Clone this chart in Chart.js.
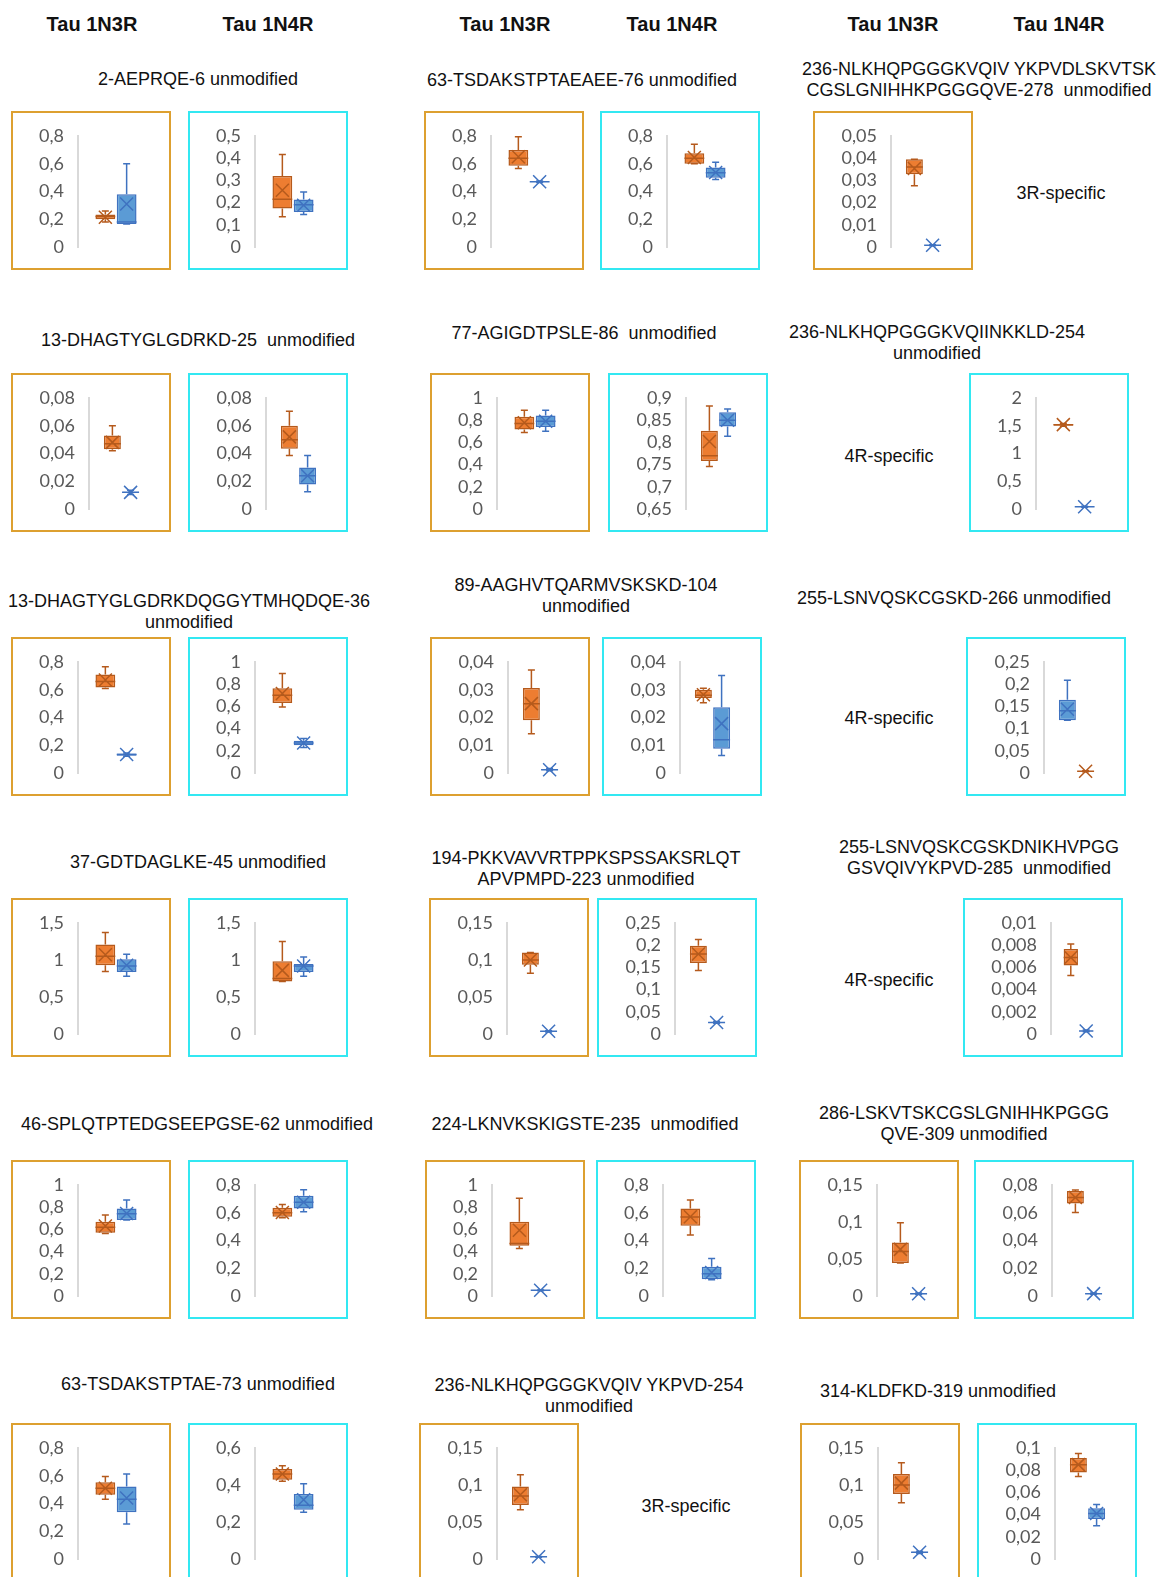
<!DOCTYPE html>
<html>
<head>
<meta charset="utf-8">
<title>Tau 1N3R / 1N4R peptides</title>
<script src="https://cdn.jsdelivr.net/npm/chart.js@4.4.1/dist/chart.umd.min.js"></script>
<style>
  html, body { margin: 0; padding: 0; background: #fff; }
  body { width: 1161px; height: 1577px; position: relative; overflow: hidden;
         font-family: "Liberation Sans", Arial, sans-serif; color: #111; }
  .hdr { position: absolute; font-weight: bold; font-size: 20px; transform: translate(-50%, -50%); white-space: nowrap; }
  .ttl { position: absolute; font-size: 18px; line-height: 21px; text-align: center; transform: translateX(-50%); white-space: pre; }
  .note { position: absolute; font-size: 18px; transform: translate(-50%, -50%); white-space: nowrap; }
  .panel { position: absolute; width: 160px; height: 159px; box-sizing: border-box; border: 2px solid; background: #fff; }
  .panel.n3r { border-color: #DDA030; }
  .panel.n4r { border-color: #33E8F2; }
  .panel canvas { position: absolute; left: 0; top: 0; }
</style>
</head>
<body>
<script>
// each series: [min, q1, median, q3, max, mean]; axis: [min, max, step]
// row 1
const aeprqe3R = { axis: [0, 0.8, 0.2], orange: [0.18, 0.20, 0.22, 0.235, 0.26, 0.215], blue: [0.165, 0.165, 0.18, 0.38, 0.60, 0.31] };
const aeprqe4R = { axis: [0, 0.5, 0.1], orange: [0.136, 0.173, 0.215, 0.32, 0.417, 0.256], blue: [0.146, 0.158, 0.19, 0.214, 0.248, 0.188] };
const tsd76_3R = { axis: [0, 0.8, 0.2], orange: [0.566, 0.585, 0.64, 0.70, 0.795, 0.65], blue: [0.465, 0.468, 0.47, 0.472, 0.475, 0.47] };
const tsd76_4R = { axis: [0, 0.8, 0.2], orange: [0.60, 0.60, 0.64, 0.675, 0.74, 0.645], blue: [0.487, 0.50, 0.535, 0.573, 0.61, 0.537] };
const nlk278_3R = { axis: [0, 0.05, 0.01], orange: [0.0276, 0.0328, 0.036, 0.0395, 0.0395, 0.0354], blue: [0.0006, 0.0007, 0.0008, 0.0009, 0.001, 0.0008] };
// row 2
const dha25_3R = { axis: [0, 0.08, 0.02], orange: [0.042, 0.043, 0.047, 0.053, 0.06, 0.048], blue: [0.0105, 0.0115, 0.012, 0.0125, 0.0135, 0.012] };
const dha25_4R = { axis: [0, 0.08, 0.02], orange: [0.0386, 0.0434, 0.05, 0.06, 0.0704, 0.052], blue: [0.0125, 0.0176, 0.024, 0.030, 0.0386, 0.024] };
const agi86_3R = { axis: [0, 1, 0.2], orange: [0.69, 0.717, 0.77, 0.83, 0.89, 0.777], blue: [0.70, 0.738, 0.79, 0.843, 0.89, 0.79] };
const agi86_4R = { axis: [0.65, 0.9, 0.05], orange: [0.746, 0.758, 0.77, 0.826, 0.882, 0.802], blue: [0.814, 0.836, 0.85, 0.868, 0.875, 0.85] };
const nlk254_4R = { axis: [0, 2, 0.5], orange: [1.49, 1.50, 1.52, 1.53, 1.54, 1.52], blue: [0.03, 0.035, 0.04, 0.045, 0.05, 0.04] };
// row 3
const dha36_3R = { axis: [0, 0.8, 0.2], orange: [0.609, 0.616, 0.66, 0.71, 0.766, 0.67], blue: [0.12, 0.125, 0.133, 0.14, 0.145, 0.133] };
const dha36_4R = { axis: [0, 1, 0.2], orange: [0.595, 0.631, 0.70, 0.764, 0.897, 0.716], blue: [0.23, 0.25, 0.27, 0.29, 0.31, 0.27] };
const aag104_3R = { axis: [0, 0.04, 0.01], orange: [0.0141, 0.019, 0.025, 0.0306, 0.0371, 0.025], blue: [0.0008, 0.001, 0.0012, 0.0014, 0.0016, 0.0012] };
const aag104_4R = { axis: [0, 0.04, 0.01], orange: [0.0253, 0.027, 0.028, 0.030, 0.0305, 0.0282], blue: [0.0063, 0.0087, 0.012, 0.0237, 0.0351, 0.0178] };
const lsn266_4R = { axis: [0, 0.25, 0.05], orange: [0.003, 0.0035, 0.004, 0.0045, 0.005, 0.004], blue: [0.119, 0.119, 0.14, 0.165, 0.209, 0.1435], blueFirst: true };
// row 4
const gdt45_3R = { axis: [0, 1.5, 0.5], orange: [0.846, 0.928, 1.05, 1.208, 1.37, 1.07], blue: [0.78, 0.837, 0.92, 1.01, 1.077, 0.93] };
const gdt45_4R = { axis: [0, 1.5, 0.5], orange: [0.71, 0.71, 0.75, 0.982, 1.25, 0.86], blue: [0.78, 0.837, 0.92, 0.946, 1.04, 0.92] };
const pkk223_3R = { axis: [0, 0.15, 0.05], orange: [0.082, 0.0935, 0.10, 0.11, 0.11, 0.10], blue: [0.0028, 0.0032, 0.0036, 0.004, 0.0044, 0.0036] };
const pkk223_4R = { axis: [0, 0.25, 0.05], orange: [0.143, 0.16, 0.18, 0.199, 0.213, 0.18], blue: [0.024, 0.025, 0.026, 0.027, 0.028, 0.026] };
const lsn285_4R = { axis: [0, 0.01, 0.002], orange: [0.00528, 0.00617, 0.0069, 0.00766, 0.0081, 0.0069], blue: [0.0002, 0.00025, 0.00027, 0.0003, 0.00035, 0.00027] };
// row 5
const spl62_3R = { axis: [0, 1, 0.2], orange: [0.563, 0.569, 0.62, 0.669, 0.729, 0.63], blue: [0.684, 0.684, 0.74, 0.789, 0.864, 0.744] };
const spl62_4R = { axis: [0, 0.8, 0.2], orange: [0.564, 0.571, 0.60, 0.636, 0.66, 0.602], blue: [0.607, 0.631, 0.675, 0.723, 0.766, 0.675] };
const lkn235_3R = { axis: [0, 1, 0.2], orange: [0.428, 0.452, 0.473, 0.669, 0.88, 0.593], blue: [0.048, 0.049, 0.051, 0.053, 0.054, 0.051] };
const lkn235_4R = { axis: [0, 0.8, 0.2], orange: [0.439, 0.506, 0.57, 0.631, 0.692, 0.571], blue: [0.118, 0.12, 0.16, 0.21, 0.27, 0.169] };
const lsk309_3R = { axis: [0, 0.15, 0.05], orange: [0.0447, 0.0447, 0.06, 0.0723, 0.099, 0.063], blue: [0.002, 0.0025, 0.003, 0.0035, 0.004, 0.003] };
const lsk309_4R = { axis: [0, 0.08, 0.02], orange: [0.0602, 0.0667, 0.071, 0.0757, 0.0764, 0.071], blue: [0.0012, 0.0015, 0.0017, 0.0019, 0.0022, 0.0017] };
// row 6
const tsd73_3R = { axis: [0, 0.8, 0.2], orange: [0.431, 0.463, 0.51, 0.554, 0.595, 0.51], blue: [0.253, 0.337, 0.43, 0.523, 0.612, 0.439] };
const tsd73_4R = { axis: [0, 0.6, 0.2], orange: [0.42, 0.429, 0.46, 0.486, 0.504, 0.459], blue: [0.253, 0.266, 0.29, 0.351, 0.407, 0.32] };
const nlk254_3R = { axis: [0, 0.15, 0.05], orange: [0.0664, 0.073, 0.085, 0.098, 0.114, 0.0868], blue: [0.0025, 0.0028, 0.003, 0.0032, 0.0035, 0.003] };
const kld319_3R = { axis: [0, 0.15, 0.05], orange: [0.076, 0.088, 0.10, 0.115, 0.13, 0.1025], blue: [0.0075, 0.0082, 0.009, 0.0098, 0.0105, 0.009] };
const kld319_4R = { axis: [0, 0.1, 0.02], orange: [0.0744, 0.078, 0.085, 0.091, 0.095, 0.085], blue: [0.030, 0.0361, 0.041, 0.0458, 0.049, 0.041] };

const headers = ['Tau 1N3R', 'Tau 1N4R', 'Tau 1N3R', 'Tau 1N4R', 'Tau 1N3R', 'Tau 1N4R'];
const headerX = [92, 268, 505, 672, 893, 1059];

// peptide titles: lines, centre x, first line centre y
const titles = [
  [['2-AEPRQE-6 unmodified'], 198, 79],
  [['63-TSDAKSTPTAEAEE-76 unmodified'], 582, 80],
  [['236-NLKHQPGGGKVQIV YKPVDLSKVTSK', 'CGSLGNIHHKPGGGQVE-278  unmodified'], 979, 69],
  [['13-DHAGTYGLGDRKD-25  unmodified'], 198, 340],
  [['77-AGIGDTPSLE-86  unmodified'], 584, 333],
  [['236-NLKHQPGGGKVQIINKKLD-254', 'unmodified'], 937, 332],
  [['13-DHAGTYGLGDRKDQGGYTMHQDQE-36', 'unmodified'], 189, 601],
  [['89-AAGHVTQARMVSKSKD-104', 'unmodified'], 586, 585],
  [['255-LSNVQSKCGSKD-266 unmodified'], 954, 598],
  [['37-GDTDAGLKE-45 unmodified'], 198, 862],
  [['194-PKKVAVVRTPPKSPSSAKSRLQT', 'APVPMPD-223 unmodified'], 586, 858],
  [['255-LSNVQSKCGSKDNIKHVPGG', 'GSVQIVYKPVD-285  unmodified'], 979, 847],
  [['46-SPLQTPTEDGSEEPGSE-62 unmodified'], 197, 1124],
  [['224-LKNVKSKIGSTE-235  unmodified'], 585, 1124],
  [['286-LSKVTSKCGSLGNIHHKPGGG', 'QVE-309 unmodified'], 964, 1113],
  [['63-TSDAKSTPTAE-73 unmodified'], 198, 1384],
  [['236-NLKHQPGGGKVQIV YKPVD-254', 'unmodified'], 589, 1385],
  [['314-KLDFKD-319 unmodified'], 938, 1391]
];

const notes = [['3R-specific', 1061, 193], ['4R-specific', 889, 456], ['4R-specific', 889, 718],
               ['4R-specific', 889, 980], ['3R-specific', 686, 1506]];

// panel placement: data, isoform, left, top
const panels = [
  [aeprqe3R, 'n3r', 11, 111], [aeprqe4R, 'n4r', 188, 111], [tsd76_3R, 'n3r', 424, 111], [tsd76_4R, 'n4r', 600, 111], [nlk278_3R, 'n3r', 813, 111],
  [dha25_3R, 'n3r', 11, 373], [dha25_4R, 'n4r', 188, 373], [agi86_3R, 'n3r', 430, 373], [agi86_4R, 'n4r', 608, 373], [nlk254_4R, 'n4r', 969, 373],
  [dha36_3R, 'n3r', 11, 637], [dha36_4R, 'n4r', 188, 637], [aag104_3R, 'n3r', 430, 637], [aag104_4R, 'n4r', 602, 637], [lsn266_4R, 'n4r', 966, 637],
  [gdt45_3R, 'n3r', 11, 898], [gdt45_4R, 'n4r', 188, 898], [pkk223_3R, 'n3r', 429, 898], [pkk223_4R, 'n4r', 597, 898], [lsn285_4R, 'n4r', 963, 898],
  [spl62_3R, 'n3r', 11, 1160], [spl62_4R, 'n4r', 188, 1160], [lkn235_3R, 'n3r', 425, 1160], [lkn235_4R, 'n4r', 596, 1160], [lsk309_3R, 'n3r', 799, 1160], [lsk309_4R, 'n4r', 974, 1160],
  [tsd73_3R, 'n3r', 11, 1423], [tsd73_4R, 'n4r', 188, 1423], [nlk254_3R, 'n3r', 419, 1423], [kld319_3R, 'n3r', 800, 1423], [kld319_4R, 'n4r', 977, 1423]
];

const orangeStyle = { fill: '#ED7D31', line: '#B55A1C' };
const blueStyle = { fill: '#5B9BD5', line: '#3F72C0' };
const tickFont = { family: 'Lato', size: 18 };

// whiskers go under the boxes, median and mean marks on top
const boxWhisker = {
  id: 'boxWhisker',
  beforeDatasetsDraw(chart) { drawBoxParts(chart, false); },
  afterDatasetsDraw(chart) { drawBoxParts(chart, true); }
};

function drawBoxParts(chart, marks) {
  const ctx = chart.ctx;
  const y = chart.scales.y;
  chart.data.datasets.forEach((ds, i) => {
    const bar = chart.getDatasetMeta(i).data[0];
    const [lo, q1, med, q3, hi, mean] = ds.stats;
    const x = bar.x, w = bar.width;
    ctx.save();
    ctx.strokeStyle = ds.borderColor;
    ctx.lineWidth = 1.5;
    ctx.beginPath();
    if (!marks) {
      const cap = 3.5;
      ctx.moveTo(x, y.getPixelForValue(hi)); ctx.lineTo(x, y.getPixelForValue(q3));
      ctx.moveTo(x, y.getPixelForValue(q1)); ctx.lineTo(x, y.getPixelForValue(lo));
      ctx.moveTo(x - cap, y.getPixelForValue(hi)); ctx.lineTo(x + cap, y.getPixelForValue(hi));
      ctx.moveTo(x - cap, y.getPixelForValue(lo)); ctx.lineTo(x + cap, y.getPixelForValue(lo));
    } else {
      const ym = y.getPixelForValue(med);
      ctx.moveTo(x - w / 2, ym); ctx.lineTo(x + w / 2, ym);
      const yc = y.getPixelForValue(mean), h = 6.5;
      ctx.moveTo(x - h, yc - h); ctx.lineTo(x + h, yc + h);
      ctx.moveTo(x - h, yc + h); ctx.lineTo(x + h, yc - h);
    }
    ctx.stroke();
    ctx.restore();
  });
}

function fmt(v) {
  return String(Math.round(v * 1e6) / 1e6).replace('.', ',');
}

function series(stats, style) {
  return {
    data: [[stats[1], stats[3]]],
    stats: stats,
    backgroundColor: style.fill,
    borderColor: style.line,
    borderWidth: 1.5,
    borderSkipped: false
  };
}

headers.forEach((h, i) => {
  const d = document.createElement('div');
  d.className = 'hdr';
  d.textContent = h;
  d.style.left = headerX[i] + 'px';
  d.style.top = '24px';
  document.body.appendChild(d);
});

titles.forEach(([lines, x, y]) => {
  const d = document.createElement('div');
  d.className = 'ttl';
  d.textContent = lines.join('\n');
  d.style.left = x + 'px';
  d.style.top = (y - 10.5) + 'px';
  document.body.appendChild(d);
});

notes.forEach(([t, x, y]) => {
  const d = document.createElement('div');
  d.className = 'note';
  d.textContent = t;
  d.style.left = x + 'px';
  d.style.top = y + 'px';
  document.body.appendChild(d);
});

panels.forEach(([p, iso, left, top]) => {
  const box = document.createElement('div');
  box.className = 'panel ' + iso;
  box.style.left = left + 'px';
  box.style.top = top + 'px';
  const canvas = document.createElement('canvas');
  canvas.width = 156;
  canvas.height = 155;
  box.appendChild(canvas);
  document.body.appendChild(box);

  const sets = [series(p.orange, orangeStyle), series(p.blue, blueStyle)];
  if (p.blueFirst) sets.reverse();

  new Chart(canvas, {
    type: 'bar',
    data: { labels: [''], datasets: sets },
    options: {
      responsive: false,
      animation: false,
      layout: { padding: { top: 23, bottom: 21, left: 24, right: 15 } },
      datasets: { bar: { categoryPercentage: 0.56, barPercentage: 0.93 } },
      plugins: { legend: { display: false }, tooltip: { enabled: false } },
      scales: {
        x: { display: false },
        y: {
          min: p.axis[0],
          max: p.axis[1],
          ticks: {
            stepSize: p.axis[2],
            autoSkip: false,
            padding: 2,
            color: '#595959',
            font: tickFont,
            callback: v => fmt(v)
          },
          // invisible tick marks keep the gap between labels and the axis line
          grid: { display: true, drawOnChartArea: false, drawTicks: true, tickLength: 12, color: 'rgba(0,0,0,0)' },
          border: { display: true, color: '#D9D9D9', width: 2 },
          // the default width cap is half the canvas; long labels like 0,008 need more
          afterFit(scale) {
            const ctx = scale.ctx;
            ctx.save();
            ctx.font = tickFont.size + 'px ' + tickFont.family;
            const widest = Math.max(...scale.ticks.map(t => ctx.measureText(fmt(t.value)).width));
            ctx.restore();
            scale.width = Math.ceil(widest) + 16;
          }
        }
      }
    },
    plugins: [boxWhisker]
  });
});
</script>
</body>
</html>
